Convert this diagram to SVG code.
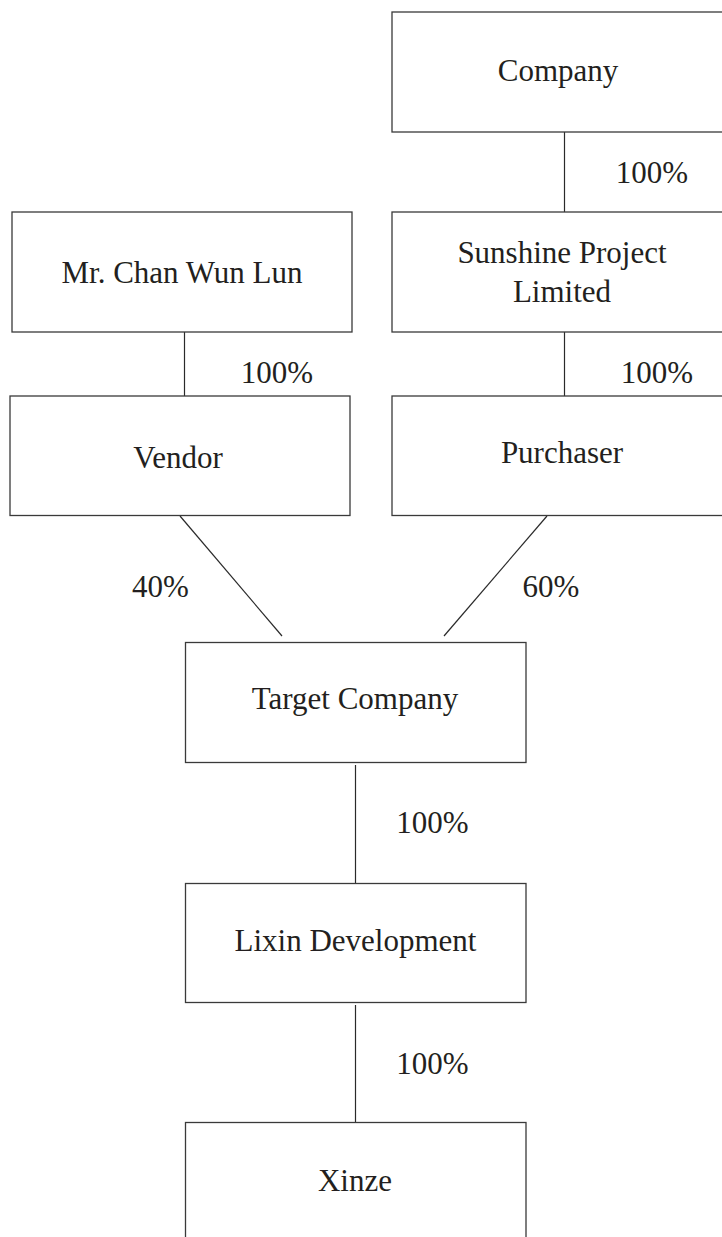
<svg xmlns="http://www.w3.org/2000/svg" width="722" height="1237" viewBox="0 0 722 1237">
  <style>
    .box { fill: #ffffff; stroke: #3a3a3a; stroke-width: 1.3; }
    .link { stroke: #2a2a2a; stroke-width: 1.2; fill: none; }
    text { font-family: "Liberation Serif", "Times New Roman", serif; font-size: 31px; fill: #231f20; }
    .c { text-anchor: middle; }
  </style>
  <rect width="722" height="1237" fill="#ffffff"/>

  <!-- ownership lines -->
  <g id="connectors">
    <line class="link" x1="564.5" y1="132" x2="564.5" y2="212"/>
    <line class="link" x1="564.5" y1="332" x2="564.5" y2="396"/>
    <line class="link" x1="184.5" y1="332" x2="184.5" y2="396"/>
    <line class="link" x1="180" y1="516" x2="282" y2="636"/>
    <line class="link" x1="547" y1="516" x2="444" y2="636"/>
    <line class="link" x1="355.5" y1="765" x2="355.5" y2="883"/>
    <line class="link" x1="355.5" y1="1005" x2="355.5" y2="1122"/>
    <text class="c" x="652" y="183">100%</text>
    <text class="c" x="657" y="383">100%</text>
    <text class="c" x="277" y="383">100%</text>
    <text class="c" x="160.5" y="597">40%</text>
    <text class="c" x="551" y="597">60%</text>
    <text class="c" x="432.5" y="833">100%</text>
    <text class="c" x="432.5" y="1074">100%</text>
  </g>

  <g id="company">
    <rect class="box" x="392" y="12" width="340" height="120"/>
    <text class="c" x="558" y="81">Company</text>
  </g>

  <g id="sunshine">
    <rect class="box" x="392" y="212" width="340" height="120"/>
    <text class="c" x="562" y="263">Sunshine Project</text>
    <text class="c" x="562" y="302">Limited</text>
  </g>

  <g id="chan">
    <rect class="box" x="12" y="212" width="340" height="120"/>
    <text class="c" x="182" y="283">Mr. Chan Wun Lun</text>
  </g>

  <g id="vendor">
    <rect class="box" x="10" y="396" width="340" height="119.5"/>
    <text class="c" x="178" y="468">Vendor</text>
  </g>

  <g id="purchaser">
    <rect class="box" x="392" y="396" width="340" height="119.5"/>
    <text class="c" x="562" y="463">Purchaser</text>
  </g>

  <g id="target">
    <rect class="box" x="185.5" y="642.5" width="340.5" height="120"/>
    <text class="c" x="355" y="709">Target Company</text>
  </g>

  <g id="lixin">
    <rect class="box" x="185.5" y="883.5" width="340.5" height="119"/>
    <text class="c" x="355.5" y="951">Lixin Development</text>
  </g>

  <g id="xinze">
    <rect class="box" x="185.5" y="1122.5" width="340.5" height="140"/>
    <text class="c" x="355" y="1191">Xinze</text>
  </g>
</svg>
